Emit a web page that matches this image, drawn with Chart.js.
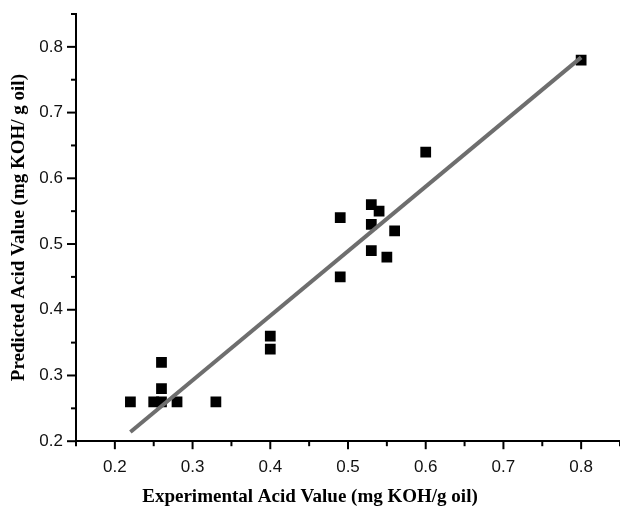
<!DOCTYPE html>
<html>
<head>
<meta charset="utf-8">
<script src="https://cdn.jsdelivr.net/npm/chart.js@4.4.1/dist/chart.umd.min.js"></script>
<style>
  html, body { margin: 0; padding: 0; background: #fff; overflow: hidden; }
  #wrap { width: 620px; height: 508px; position: relative; }
  canvas { display: block; }
</style>
</head>
<body>
<div id="wrap"><canvas id="chart"></canvas></div>
<script>
const expX = [0.22, 0.25, 0.26, 0.28, 0.33, 0.26, 0.26, 0.40, 0.40, 0.49, 0.49, 0.53, 0.54, 0.53, 0.53, 0.55, 0.56, 0.60, 0.80];
const predY = [0.26, 0.26, 0.26, 0.26, 0.26, 0.28, 0.32, 0.34, 0.36, 0.45, 0.54, 0.56, 0.55, 0.53, 0.49, 0.48, 0.52, 0.64, 0.78];

// regression line end points
const fitX = [0.22, 0.80];
const fitY = [0.214, 0.784];

// axis ranges
const xRange = [0.15, 0.85];
const yRange = [0.2, 0.85];

const isMajor = v => Math.abs(Math.round(v * 10) - v * 10) < 1e-6;

// tick marks: long at labelled values, short in between
const tickMarks = {
  id: 'tickMarks',
  afterDraw(chart) {
    const ctx = chart.ctx;
    ctx.save();
    ctx.strokeStyle = '#000';
    ctx.lineWidth = 2;
    const xs = chart.scales.x, ys = chart.scales.y;
    xs.ticks.forEach(t => {
      const px = xs.getPixelForValue(t.value);
      ctx.beginPath();
      ctx.moveTo(px, xs.top);
      ctx.lineTo(px, xs.top + (isMajor(t.value) ? 8 : 5));
      ctx.stroke();
    });
    ys.ticks.forEach(t => {
      const py = ys.getPixelForValue(t.value);
      ctx.beginPath();
      ctx.moveTo(ys.right, py);
      ctx.lineTo(ys.right - (isMajor(t.value) ? 9 : 5), py);
      ctx.stroke();
    });
    ctx.restore();
  }
};

const tickFont = { family: 'Liberation Sans', size: 17 };
const titleFont = { family: 'Liberation Serif', size: 19, weight: 'bold' };

function axis(range, len) {
  return {
    type: 'linear',
    min: range[0],
    max: range[1],
    ticks: {
      stepSize: 0.05,
      color: '#111',
      font: tickFont,
      padding: 0,
      maxRotation: 0,
      autoSkip: false,
      callback: v => isMajor(v) && v > range[0] + 1e-6 && v < range[1] - 1e-6 || Math.abs(v - 0.2) < 1e-6 ? v.toFixed(1) : ''
    },
    grid: {
      drawOnChartArea: false,
      drawTicks: true,
      tickLength: len,
      tickColor: 'rgba(0,0,0,0)'
    },
    border: { display: true, color: '#000', width: 2 }
  };
}

const xAxis = axis(xRange, 16);
xAxis.afterFit = s => { s.height = 44; };
const yAxis = axis(yRange, 13);
yAxis.title = {
  display: true, text: 'Predicted Acid Value (mg KOH/ g oil)', color: '#000',
  font: titleFont, padding: { top: 8, bottom: 4 }
};
yAxis.afterFit = s => { s.width = 76; };

new Chart(document.getElementById('chart'), {
  type: 'scatter',
  data: {
    datasets: [{
      label: 'Fit',
      type: 'line',
      data: fitX.map((x, i) => ({ x: x, y: fitY[i] })),
      borderColor: '#6e6e6e',
      borderWidth: 4,
      pointRadius: 0,
      fill: false,
      order: 0
    }, {
      label: 'Data',
      data: expX.map((x, i) => ({ x: x, y: predY[i] })),
      pointStyle: 'rect',
      pointRadius: 7.6,
      pointBackgroundColor: '#000',
      pointBorderWidth: 0,
      order: 1
    }]
  },
  options: {
    responsive: true,
    maintainAspectRatio: false,
    animation: false,
    layout: { autoPadding: false, padding: { top: 14, right: 0, left: 0, bottom: 0 } },
    plugins: {
      legend: { display: false },
      tooltip: { enabled: false },
      title: {
        display: true, position: 'bottom',
        text: 'Experimental Acid Value (mg KOH/g oil)',
        color: '#000', font: titleFont, padding: { top: 0, bottom: 0 }
      }
    },
    scales: { x: xAxis, y: yAxis }
  },
  plugins: [tickMarks]
});
</script>
</body>
</html>
